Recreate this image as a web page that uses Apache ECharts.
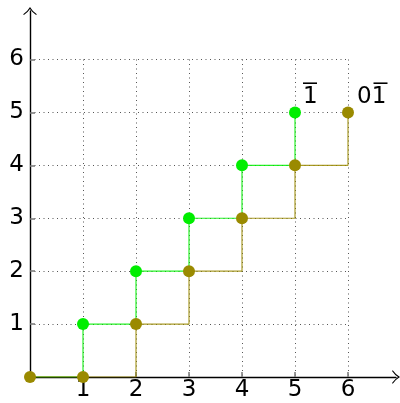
<!DOCTYPE html>
<html><head><meta charset="utf-8">
<script src="https://cdn.jsdelivr.net/npm/echarts@6/dist/echarts.min.js"></script>
<style>html,body{margin:0;padding:0;background:#fff}#c{width:400px;height:403px}</style>
</head><body><div id="c"></div>
<script>
const greenX = [0, 1, 2, 3, 4, 5];
const greenY = [0, 1, 2, 3, 4, 5];
const oliveX = [0, 1, 2, 3, 4, 5, 6];
const oliveY = [0, 0, 1, 2, 3, 4, 5];
const xTicks = [1, 2, 3, 4, 5, 6];
const yTicks = [1, 2, 3, 4, 5, 6];
const greenEndText = '1';
const oliveEndText = ['0', '1'];

const FONT = 'DejaVu Sans';
const FS = 23;
const GREEN = '#00ee00';
const OLIVE = '#9a8a00';
const chart = echarts.init(document.getElementById('c'));

const rich = {
  b: { width: 14, height: 1.6, backgroundColor: '#000' },
  g: { width: 16.5, height: 1.6 },
  s: { width: 1, height: 2.5 },
  t: { fontFamily: FONT, fontSize: FS, lineHeight: 22, color: '#000' }
};
const greenLabel = '{b|}\n{s|}\n{t|' + greenEndText + '}';
const oliveLabel = '{g|}{b|}\n{s|}\n{t|' + oliveEndText.join('') + '}';

function pts(xs, ys, lastLabel, offX, showFirst) {
  return xs.map((x, i) => {
    const d = { value: [x, ys[i]] };
    if (i === 0 && !showFirst) d.symbolSize = 0;
    if (i === xs.length - 1) {
      d.label = { show: true, formatter: lastLabel, position: [offX, -24], rich: rich };
    }
    return d;
  });
}

const arrow = 'path://M0,8 Q5,4.5 7.5,0 Q10,4.5 15,8 L14.2,8.8 Q9.6,5.6 7.5,2.2 Q5.4,5.6 0.8,8.8 Z';

chart.setOption({
  animation: false,
  grid: [
    { left: 30, top: 59.5, width: 318, height: 317.5 },
    { left: 30, top: 11, width: 366, height: 366 }
  ],
  xAxis: [
    { gridIndex: 0, type: 'value', min: 0, max: 6, interval: 1,
      axisLine: { show: false },
      axisTick: { show: true, inside: true, length: 5, lineStyle: { color: '#777', width: 1.5 } },
      axisLabel: { show: true, margin: 2, fontFamily: FONT, fontSize: FS, color: '#000',
        formatter: v => xTicks.includes(v) ? String(v) : '' },
      splitLine: { show: true, lineStyle: { color: '#555', type: [1, 3.5], width: 1 } } },
    { gridIndex: 1, type: 'value', min: 0, max: 7,
      axisLine: { show: true, symbol: ['none', arrow], symbolSize: [15, 8],
        lineStyle: { color: '#000', width: 1.4 } },
      axisTick: { show: false }, axisLabel: { show: false }, splitLine: { show: false } }
  ],
  yAxis: [
    { gridIndex: 0, type: 'value', min: 0, max: 6, interval: 1,
      axisLine: { show: false },
      axisTick: { show: true, inside: true, length: 5, lineStyle: { color: '#777', width: 1.5 } },
      axisLabel: { show: true, margin: 6, fontFamily: FONT, fontSize: FS, color: '#000',
        formatter: v => yTicks.includes(v) ? String(v) : '' },
      splitLine: { show: true, lineStyle: { color: '#555', type: [1, 3.5], width: 1 } } },
    { gridIndex: 1, type: 'value', min: 0, max: 7,
      axisLine: { show: true, symbol: ['none', arrow], symbolSize: [15, 8],
        lineStyle: { color: '#000', width: 1.4 } },
      axisTick: { show: false }, axisLabel: { show: false }, splitLine: { show: false } }
  ],
  series: [
    { type: 'line', xAxisIndex: 0, yAxisIndex: 0, step: 'end', data: pts(greenX, greenY, greenLabel, 14, false),
      symbol: 'circle', symbolSize: 12, lineStyle: { color: GREEN, width: 1.2, opacity: 0.85 },
      itemStyle: { color: GREEN }, z: 3 },
    { type: 'line', xAxisIndex: 0, yAxisIndex: 0, step: 'end', data: pts(oliveX, oliveY, oliveLabel, 15, true),
      symbol: 'circle', symbolSize: 12, lineStyle: { color: OLIVE, width: 1.2, opacity: 0.85 },
      itemStyle: { color: OLIVE }, z: 4 }
  ]
});
</script></body></html>
